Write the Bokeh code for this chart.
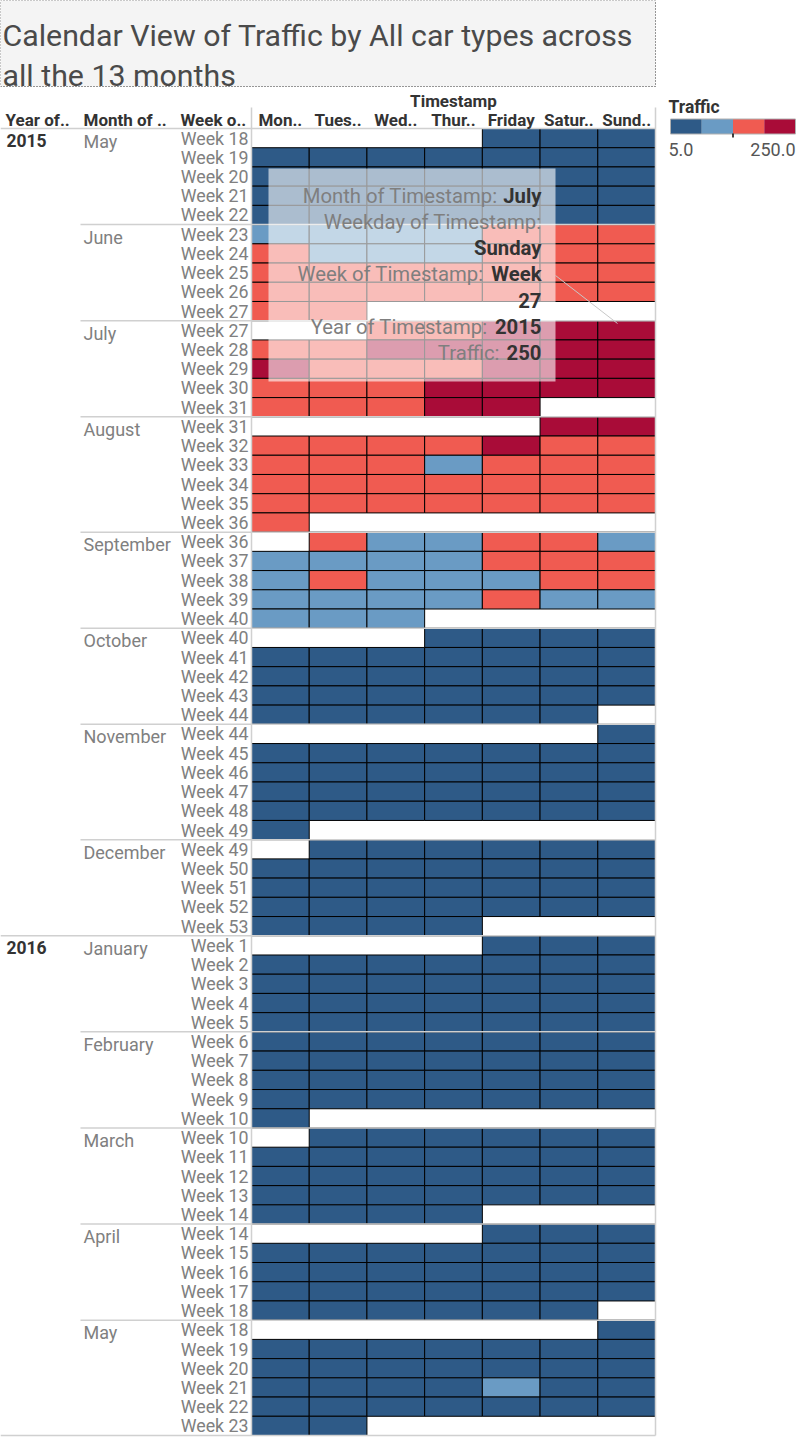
from bokeh.plotting import figure
from bokeh.models import ColumnDataSource, Range1d, Label, BoxAnnotation
from bokeh.transform import linear_cmap
from bokeh.core.properties import value
from bokeh.embed import file_html
from bokeh.resources import INLINE

# ---------------- data ----------------
N = None
B, L, R, D = 30, 100, 160, 225   # estimated traffic levels read from colour bins

title_lines = ["Calendar View of Traffic by All car types across", "all the 13 months"]
weekdays = ["Mon..", "Tues..", "Wed..", "Thur..", "Friday", "Satur..", "Sund.."]
header_labels = ["Year of..", "Month of ..", "Week o.."]
months = ["May", "June", "July", "August", "September", "October", "November",
          "December", "January", "February", "March", "April", "May"]
month_year = ["2015"] * 8 + ["2016"] * 5
month_weeks = [
    [18, 19, 20, 21, 22],
    [23, 24, 25, 26, 27],
    [27, 28, 29, 30, 31],
    [31, 32, 33, 34, 35, 36],
    [36, 37, 38, 39, 40],
    [40, 41, 42, 43, 44],
    [44, 45, 46, 47, 48, 49],
    [49, 50, 51, 52, 53],
    [1, 2, 3, 4, 5],
    [6, 7, 8, 9, 10],
    [10, 11, 12, 13, 14],
    [14, 15, 16, 17, 18],
    [18, 19, 20, 21, 22, 23],
]
traffic = [
    # 2015 May
    [N, N, N, N, B, B, B], [B]*7, [B]*7, [B]*7, [B]*7,
    # June
    [L, L, L, L, R, R, R], [R, L, L, L, R, R, R], [R]*7, [R]*7, [R, R, N, N, N, N, N],
    # July
    [N, N, R, R, D, D, 250], [R, R, D, D, D, D, D], [D, R, R, R, D, D, D],
    [R, R, R, D, D, D, D], [R, R, R, D, D, N, N],
    # August
    [N, N, N, N, N, D, D], [R, R, R, R, D, R, R], [R, R, R, L, R, R, R],
    [R]*7, [R]*7, [R, N, N, N, N, N, N],
    # September
    [N, R, L, L, R, R, L], [L, L, L, L, R, R, R], [L, R, L, L, L, R, R],
    [L, L, L, L, R, L, L], [L, L, L, N, N, N, N],
    # October
    [N, N, N, B, B, B, B], [B]*7, [B]*7, [B]*7, [B, B, B, B, B, B, N],
    # November
    [N, N, N, N, N, N, B], [B]*7, [B]*7, [B]*7, [B]*7, [B, N, N, N, N, N, N],
    # December
    [N, B, B, B, B, B, B], [B]*7, [B]*7, [B]*7, [B, B, B, B, N, N, N],
    # 2016 January
    [N, N, N, N, B, B, B], [B]*7, [B]*7, [B]*7, [B]*7,
    # February
    [B]*7, [B]*7, [B]*7, [B]*7, [B, N, N, N, N, N, N],
    # March
    [N, B, B, B, B, B, B], [B]*7, [B]*7, [B]*7, [B, B, B, B, N, N, N],
    # April
    [N, N, N, N, B, B, B], [B]*7, [B]*7, [B]*7, [B, B, B, B, B, B, N],
    # May
    [N, N, N, N, N, N, B], [B]*7, [B]*7, [B, B, B, B, L, B, B], [B]*7, [B, B, N, N, N, N, N],
]
palette = ["#2e5a87", "#6a9bc4", "#f05b51", "#a90c38"]
traffic_low, traffic_high = 5.0, 250.0
tooltip_rows = [("Month of Timestamp:", "July"), ("Weekday of Timestamp:", ""), ("", "Sunday"),
                ("Week of Timestamp:", "Week"), ("", "27"), ("Year of Timestamp:", "2015"),
                ("Traffic:", "250")]

# ---------------- layout ----------------
W, H = 800, 1437
X0, X1 = 251.0, 655.0
Y0, Y1 = 128.0, 1435.0
n_rows = len(traffic)
CW = (X1 - X0) / 7
RH = (Y1 - Y0) / n_rows
FONT = value("Roboto")

p = figure(width=W, height=H, x_range=Range1d(0, W), y_range=Range1d(H, 0),
           output_backend="svg", toolbar_location=None, min_border=0,
           outline_line_color=None, background_fill_color="white")
p.axis.visible = False
p.grid.visible = False

# title box
p.quad(left=[0], right=[X1], top=[0], bottom=[86], fill_color="#f4f4f4",
       line_color="#333333", line_dash="1 2", line_width=1)
for i, t in enumerate(title_lines):
    p.text(x=[2], y=[35 + 40 * i], text=[t], text_font=FONT, text_font_size="30.3px",
           text_color="#4a4a4a", text_baseline="alphabetic")

# cells
cx, cy, cv = [], [], []
for r, row in enumerate(traffic):
    for c, v in enumerate(row):
        if v is not None:
            cx.append(X0 + (c + 0.5) * CW)
            cy.append(Y0 + (r + 0.5) * RH)
            cv.append(v)
src = ColumnDataSource(dict(x=cx, y=cy, v=cv))
p.rect(x="x", y="y", width=CW, height=RH, source=src,
       fill_color=linear_cmap("v", palette, traffic_low, traffic_high),
       line_color="black", line_width=1)

# row labels
week_y, week_t, mon_y, mon_t, sep_x0, sep_y, yr_y, yr_t = [], [], [], [], [], [], [], []
r = 0
prev_year = None
for m, weeks in enumerate(month_weeks):
    mon_y.append(Y0 + (r + 0.5) * RH + 3)
    mon_t.append(months[m])
    if month_year[m] != prev_year:
        yr_y.append(Y0 + (r + 0.5) * RH + 2)
        yr_t.append(month_year[m])
        if prev_year is not None:
            sep_x0.append(0)
            sep_y.append(Y0 + r * RH)
        prev_year = month_year[m]
    elif m > 0:
        sep_x0.append(80)
        sep_y.append(Y0 + r * RH)
    for wk in weeks:
        week_y.append(Y0 + (r + 0.5) * RH)
        week_t.append("Week %d" % wk)
        r += 1

p.segment(x0=sep_x0, y0=sep_y, x1=[X1] * len(sep_y), y1=sep_y, line_color="#d0d0d0", line_width=1.5)
p.segment(x0=[0], y0=[Y0], x1=[X1], y1=[Y0], line_color="#d0d0d0", line_width=1.5)
p.segment(x0=[X0, X1], y0=[107, 107], x1=[X0, X1], y1=[Y1, Y1], line_color="#d0d0d0", line_width=1.5)
p.segment(x0=[0], y0=[Y1], x1=[X1], y1=[Y1], line_color="#d0d0d0", line_width=1.5)

p.text(x=[X0 - 3] * len(week_y), y=week_y, text=week_t, text_font=FONT, text_font_size="17.8px",
       text_color="#808080", text_align="right", text_baseline="middle")
p.text(x=[83] * len(mon_y), y=mon_y, text=mon_t, text_font=FONT, text_font_size="18px",
       text_color="#808080", text_baseline="middle")
p.text(x=[6] * len(yr_y), y=yr_y, text=yr_t, text_font=FONT, text_font_size="17.5px",
       text_font_style="bold", text_color="#333333", text_baseline="middle")

# headers
p.text(x=[(X0 + X1) / 2], y=[100], text=["Timestamp"], text_font=FONT, text_font_size="17px",
       text_font_style="bold", text_color="#333333", text_align="center", text_baseline="middle")
p.text(x=[X0 + (i + 0.5) * CW for i in range(7)], y=[119] * 7, text=weekdays, text_font=FONT,
       text_font_size="17px", text_font_style="bold", text_color="#333333",
       text_align="center", text_baseline="middle")
p.text(x=[5, 83, 180], y=[119] * 3, text=header_labels, text_font=FONT, text_font_size="17px",
       text_font_style="bold", text_color="#333333", text_baseline="middle")

# legend
LX0, LX1 = 670.0, 795.0
LW = (LX1 - LX0) / len(palette)
p.text(x=[668], y=[106], text=["Traffic"], text_font=FONT, text_font_size="17.5px",
       text_font_style="bold", text_color="#333333", text_baseline="middle")
p.rect(x=[LX0 + (i + 0.5) * LW for i in range(len(palette))], y=[126] * len(palette),
       width=LW, height=15, fill_color=palette, line_color=None)
p.rect(x=[(LX0 + LX1) / 2], y=[126], width=LX1 - LX0, height=15, fill_color=None,
       line_color="#b0b0b0", line_width=1)
p.segment(x0=[(LX0 + LX1) / 2], y0=[133], x1=[(LX0 + LX1) / 2], y1=[137], line_color="black", line_width=1.5)
p.text(x=[668], y=[149], text=["%.1f" % traffic_low], text_font=FONT, text_font_size="18px",
       text_color="#555555", text_baseline="middle")
p.text(x=[795], y=[149], text=["%.1f" % traffic_high], text_font=FONT, text_font_size="18px",
       text_color="#555555", text_align="right", text_baseline="middle")

# tooltip overlay
p.add_layout(BoxAnnotation(left=268, right=555, top=168, bottom=381, fill_color="white",
                           fill_alpha=0.6, line_alpha=0))
p.segment(x0=[555], y0=[275], x1=[617], y1=[323], line_color="#c8c8c8", line_width=1, level="overlay")
value_right = 541
label_right = [497, 541, None, 483, None, 487, 499]
for i, (lab, val) in enumerate(tooltip_rows):
    yy = 195 + i * 26.2
    if lab:
        p.add_layout(Label(x=label_right[i], y=yy, text=lab, text_font="Roboto",
                           text_font_size="20.3px", text_color="#7f7f7f", text_align="right",
                           text_baseline="middle"))
    if val:
        p.add_layout(Label(x=value_right, y=yy, text=val, text_font="Roboto", text_font_size="20.3px",
                           text_font_style="bold", text_color="#333333", text_align="right",
                           text_baseline="middle"))

open("out.html", "w").write(file_html(p, INLINE))
